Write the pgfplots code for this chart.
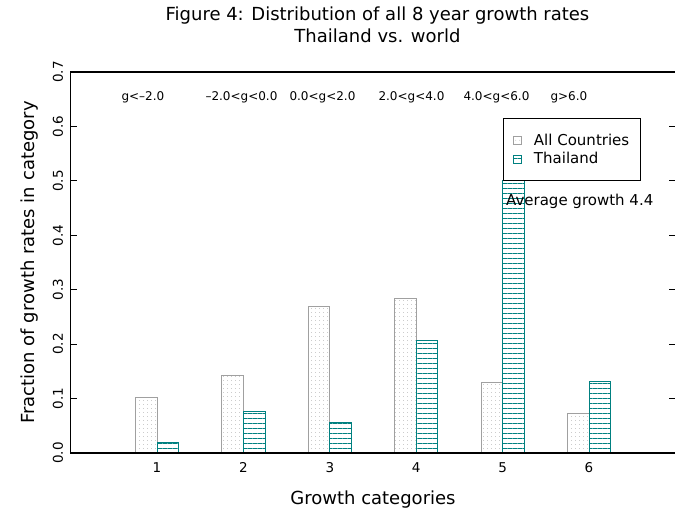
\documentclass[border=0pt]{standalone}
\usepackage{fontspec}
\setmainfont{DejaVu Sans}
\usepackage{pgfplots}
\pgfplotsset{compat=1.18}
\usetikzlibrary{patterns.meta}
\definecolor{tealc}{RGB}{0,128,128}
\definecolor{grayc}{RGB}{160,160,160}
\definecolor{dotc}{RGB}{165,165,165}
\begin{document}
\begin{tikzpicture}
\useasboundingbox (0,0) rectangle (675pt,508pt);
\begin{axis}[
  at={(70.6pt,55pt)}, anchor=south west,
  scale only axis, width=604.8pt, height=381pt,
  xmin=0, xmax=7, ymin=0, ymax=0.7,
  clip mode=individual,
  axis on top,
  axis line style={line width=1.6pt},
  xtick={1,2,3,4,5,6}, xtick style={draw=none},
  ytick={0,0.1,0.2,0.3,0.4,0.5,0.6,0.7},
  ytick pos=both, tick align=inside,
  major tick length=6pt,
  ytick style={line width=0.8pt, black},
  /pgf/number format/assume math mode=true,
  yticklabel={\pgfmathprintnumber[fixed, fixed zerofill, precision=1]{\tick}},
  yticklabel style={xshift=-7.6pt, rotate=90, anchor=base, font=\fontsize{13.5}{15}\selectfont},
  xticklabel style={anchor=base, yshift=-20pt, font=\fontsize{13.5}{15}\selectfont},
  xlabel={Growth categories},
  xlabel style={at={(axis description cs:0.5,-0.1339)}, anchor=base, font=\fontsize{18}{21}\selectfont},
  ylabel={Fraction of growth rates in category},
  ylabel style={at={(axis description cs:-0.0589,0.5)}, anchor=base, font=\fontsize{18}{21}\selectfont},
  legend style={at={(axis description cs:0.715,0.879)}, anchor=north west, draw=black, line width=1.1pt, fill=white,
    font=\fontsize{15}{18}\selectfont, inner xsep=9.5pt, inner ysep=13pt, row sep=2pt},
  legend cell align=left,
  legend image code/.code={\draw[#1, line width=0.8pt] (0pt,-4pt) rectangle (8pt,4pt); \path[draw=none, fill=none, pattern=none] (0pt,0pt) -- (18.5pt,0pt);},
]
\addplot[ybar, bar width=21.6pt, bar shift=-10.8pt, draw=grayc, line width=0.8pt,
  pattern={Dots[distance=4pt, radius=0.45pt]}, pattern color=dotc]
  coordinates {(1,0.102) (2,0.142) (3,0.270) (4,0.284) (5,0.130) (6,0.073)};
\addlegendentry{All Countries}
\addplot[ybar, bar width=21.6pt, bar shift=10.8pt, draw=tealc, line width=0.8pt,
  pattern={Lines[distance=5pt, angle=0, line width=0.9pt]}, pattern color=tealc]
  coordinates {(1,0.019) (2,0.076) (3,0.056) (4,0.207) (5,0.500) (6,0.132)};
\addlegendentry{Thailand}
\node[anchor=base west, font=\fontsize{15}{18}\selectfont] at (axis cs:5.0,0.4538) {Average growth 4.4};
\node[anchor=base west, font=\fontsize{12}{14}\selectfont] at (axis cs:0.549,0.6485) {g<–2.0};
\node[anchor=base west, font=\fontsize{12}{14}\selectfont] at (axis cs:1.521,0.6485) {–2.0<g<0.0};
\node[anchor=base west, font=\fontsize{12}{14}\selectfont] at (axis cs:2.493,0.6485) {0.0<g<2.0};
\node[anchor=base west, font=\fontsize{12}{14}\selectfont] at (axis cs:3.523,0.6485) {2.0<g<4.0};
\node[anchor=base west, font=\fontsize{12}{14}\selectfont] at (axis cs:4.507,0.6485) {4.0<g<6.0};
\node[anchor=base west, font=\fontsize{12}{14}\selectfont] at (axis cs:5.514,0.6485) {g>6.0};
\node[anchor=base, font=\fontsize{18}{21}\selectfont] at (axis description cs:0.5074,1.1339) {Figure 4: Distribution of all 8 year growth rates};
\node[anchor=base, font=\fontsize{18}{21}\selectfont] at (axis description cs:0.5074,1.0787) {Thailand vs. world};
\end{axis}
\end{tikzpicture}
\end{document}
